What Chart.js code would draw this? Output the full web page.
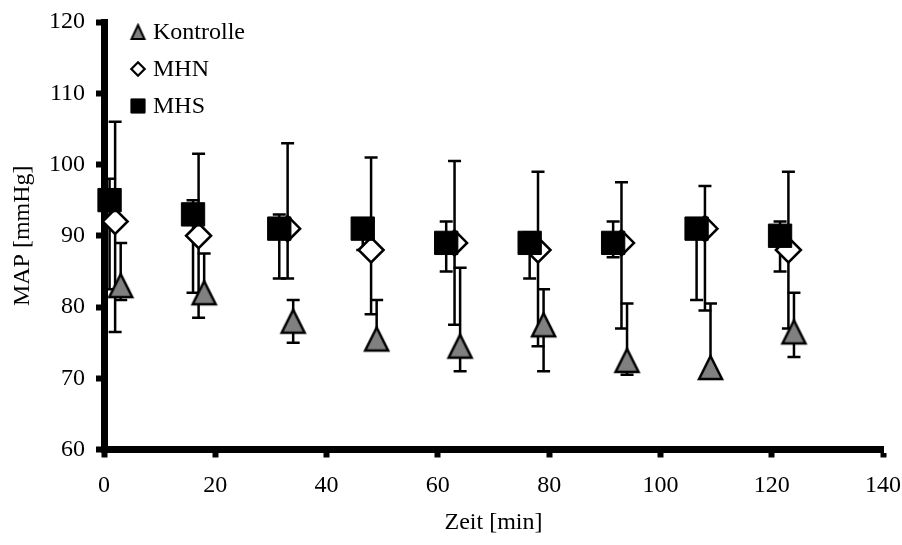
<!DOCTYPE html>
<html>
<head>
<meta charset="utf-8">
<title>MAP</title>
<script src="https://cdn.jsdelivr.net/npm/chart.js@4.4.0/dist/chart.umd.min.js"></script>
<style>
html, body { margin:0; padding:0; background:#fff; }
</style>
</head>
<body>
<canvas id="myChart" width="902" height="545"></canvas>
<script>
//時間 [min]（系列ごとに少しずらしてある）
var zeit_kontrolle = [3, 18, 34, 49, 64, 79, 94, 109, 124];
var zeit_mhn = [2, 17, 33, 48, 63, 78, 93, 108, 123];
var zeit_mhs = [1, 16, 31.5, 46.5, 61.5, 76.5, 91.5, 106.5, 121.5];

//MAP [mmHg] の平均値
var map_kontrolle = [83, 82, 78, 75.5, 74.5, 77.5, 72.5, 71.5, 76.5];
var map_mhn = [92, 90, 91, 88, 89, 88, 89, 91, 88];
var map_mhs = [95, 93, 91, 91, 89, 89, 89, 91, 90];

//エラーバーの上端と下端
var oben_kontrolle = [89, 87.5, 81, 81, 85.5, 82.5, 80.5, 80.5, 82];
var unten_kontrolle = [81, 80.5, 75, 74, 71, 71, 70.5, 70.5, 73];
var oben_mhn = [106, 101.5, 103, 101, 100.5, 99, 97.5, 97, 99];
var unten_mhn = [76.5, 78.5, 84, 79, 77.5, 74.5, 77, 79.5, 77];
var oben_mhs = [98, 95, 93, 92, 92, 90.5, 92, 92, 92];
var unten_mhs = [82.5, 82, 84, 88, 85, 84, 87, 81, 85];

//目盛り
var x_ticks = [0, 20, 40, 60, 80, 100, 120, 140];
var y_ticks = [60, 70, 80, 90, 100, 110, 120];

var font_family = '"Liberation Serif", "Times New Roman", serif';
var font_size = 24;

//x と y を点の配列にする
function to_points(xs, ys){
    var result = [];
    for(var i = 0; i < xs.length; i++){
        result.push({x: xs[i], y: ys[i]});
    }
    return result;
}

//灰色の三角マーカーをキャンバスで作る（縦長なので自前）
function make_triangle(w, h, line_w){
    var pad = 4;
    var c = document.createElement('canvas');
    c.width = w + pad * 2;
    c.height = h + pad * 2;
    var g = c.getContext('2d');
    g.beginPath();
    g.moveTo(pad + w / 2, pad);
    g.lineTo(pad + w, pad + h);
    g.lineTo(pad, pad + h);
    g.closePath();
    g.fillStyle = '#808080';
    g.fill();
    g.lineWidth = line_w;
    g.strokeStyle = '#000';
    g.stroke();
    return c;
}
var triangle_big = make_triangle(23, 23, 2.5);
var triangle_small = make_triangle(13, 14, 2);

//エラーバー描画（マーカーの下に描く）
var errorbar_plugin = {
    id: 'errorbar_plugin',
    beforeDatasetsDraw: function(chart){
        var ctx = chart.ctx;
        var y_scale = chart.scales.y;
        var cap = 6.5;
        ctx.save();
        ctx.strokeStyle = '#000';
        ctx.lineWidth = 2.5;
        chart.data.datasets.forEach(function(ds, i){
            var meta = chart.getDatasetMeta(i);
            meta.data.forEach(function(pt, j){
                var x = pt.x;
                var y_top = y_scale.getPixelForValue(ds.err_oben[j]);
                var y_bottom = y_scale.getPixelForValue(ds.err_unten[j]);
                ctx.beginPath();
                ctx.moveTo(x, y_top);
                ctx.lineTo(x, y_bottom);
                ctx.moveTo(x - cap, y_top);
                ctx.lineTo(x + cap, y_top);
                ctx.moveTo(x - cap, y_bottom);
                ctx.lineTo(x + cap, y_bottom);
                ctx.stroke();
            });
        });
        ctx.restore();
    }
};

//凡例はグラフの中の左上に自前で描く
var legend_plugin = {
    id: 'legend_plugin',
    afterDraw: function(chart){
        var ctx = chart.ctx;
        var area = chart.chartArea;
        var rows = [
            {text: 'Kontrolle', style: triangle_small, radius: 7, fill: '#808080', border: 2},
            {text: 'MHN', style: 'rectRot', radius: 6.7, fill: '#fff', border: 2.2},
            {text: 'MHS', style: 'rect', radius: 10, fill: '#000', border: 1}
        ];
        ctx.save();
        ctx.font = font_size + 'px ' + font_family;
        ctx.textBaseline = 'middle';
        ctx.textAlign = 'left';
        rows.forEach(function(row, i){
            var mx = area.left + 34;
            var my = area.top + 10 + i * 37;
            ctx.fillStyle = row.fill;
            ctx.strokeStyle = '#000';
            ctx.lineWidth = row.border;
            Chart.helpers.drawPoint(ctx, {pointStyle: row.style, radius: row.radius, borderWidth: row.border, rotation: 0}, mx, my);
            ctx.fillStyle = '#000';
            ctx.fillText(row.text, area.left + 49, my + 1);
        });
        ctx.restore();
    }
};

Chart.defaults.font.family = font_family;
Chart.defaults.font.size = font_size;
Chart.defaults.color = '#000';

var ctx = document.getElementById('myChart');
var map_chart = new Chart(ctx, {
    type: 'scatter',
    data: {
        datasets: [{
            label: 'Kontrolle',
            data: to_points(zeit_kontrolle, map_kontrolle),
            err_oben: oben_kontrolle,
            err_unten: unten_kontrolle,
            pointStyle: triangle_big,
            pointRadius: 12,
            order: 2,
            clip: false
        }, {
            label: 'MHN',
            data: to_points(zeit_mhn, map_mhn),
            err_oben: oben_mhn,
            err_unten: unten_mhn,
            pointStyle: 'rectRot',
            pointRadius: 12.5,
            backgroundColor: '#fff',
            borderColor: '#000',
            borderWidth: 2.5,
            order: 1,
            clip: false
        }, {
            label: 'MHS',
            data: to_points(zeit_mhs, map_mhs),
            err_oben: oben_mhs,
            err_unten: unten_mhs,
            pointStyle: 'rect',
            pointRadius: 16.5,
            backgroundColor: '#000',
            borderColor: '#000',
            borderWidth: 1,
            order: 0,
            clip: false
        }]
    },
    options: {
        responsive: false,
        animation: false,
        layout: {
            padding: {top: 22, right: 19, left: 0, bottom: 0}
        },
        plugins: {
            legend: {display: false},
            tooltip: {enabled: false}
        },
        scales: {
            x: {
                type: 'linear',
                min: 0,
                max: 140,
                afterBuildTicks: function(scale){
                    scale.ticks = x_ticks.map(function(v){ return {value: v}; });
                },
                afterFit: function(scale){
                    scale.height = 95.5;
                    scale.paddingRight = 0;
                },
                ticks: {padding: 14, color: '#000'},
                grid: {drawOnChartArea: false, tickLength: 8, tickWidth: 6, tickColor: '#000'},
                border: {display: true, width: 7, color: '#000'},
                title: {display: true, text: 'Zeit [min]', color: '#000', padding: {top: 0, bottom: 7.5}}
            },
            y: {
                type: 'linear',
                min: 60,
                max: 120,
                afterBuildTicks: function(scale){
                    scale.ticks = y_ticks.map(function(v){ return {value: v}; });
                },
                afterFit: function(scale){
                    scale.width = 104;
                    scale.paddingTop = 0;
                },
                ticks: {padding: 11, color: '#000'},
                grid: {drawOnChartArea: false, tickLength: 8, tickWidth: 6, tickColor: '#000'},
                border: {display: true, width: 7, color: '#000'},
                title: {display: true, text: 'MAP [mmHg]', color: '#000', padding: {top: 8, bottom: 0}}
            }
        }
    },
    plugins: [errorbar_plugin, legend_plugin]
});
</script>
</body>
</html>
